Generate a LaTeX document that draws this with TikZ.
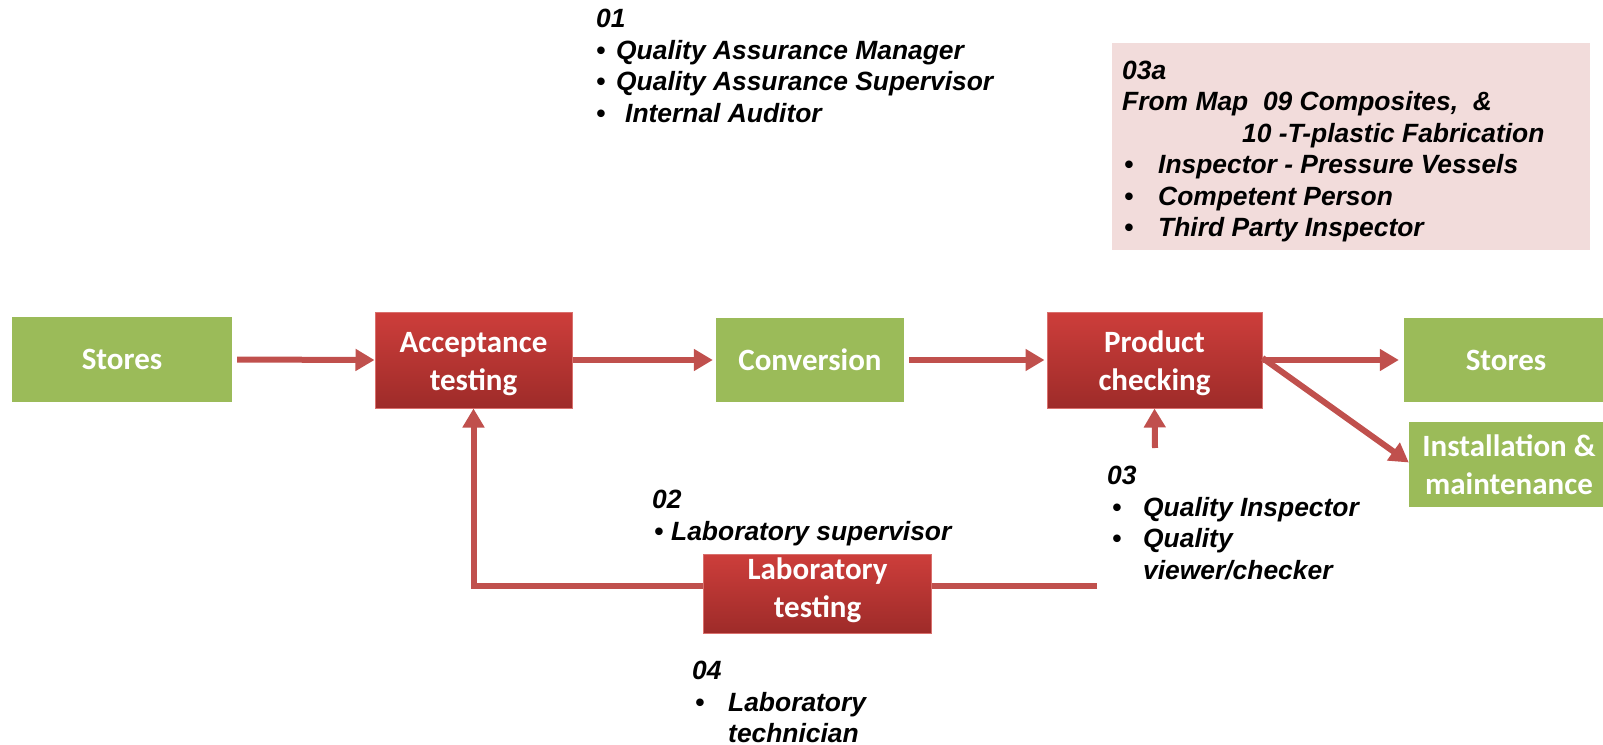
\documentclass[tikz,border=0pt]{standalone}
\usepackage{fontspec}
\newfontfamily\calfont{Carlito}
\newfontfamily\arfont{Liberation Sans}
\usetikzlibrary{arrows.meta,backgrounds}
\definecolor{boxgreen}{HTML}{9BBB59}
\definecolor{arrowred}{HTML}{C0504D}
\definecolor{redtop}{HTML}{CD3E3B}
\definecolor{redbot}{HTML}{9E2B29}
\definecolor{redborder}{HTML}{D9706D}
\definecolor{pinkfill}{HTML}{F2DCDB}
\tikzset{
  boxfont/.style={text=white, font={\calfont\bfseries\fontsize{31}{38}\selectfont}, align=center, inner sep=0pt},
  greenbox/.style={boxfont, fill=boxgreen, draw=none},
  redbox/.style={boxfont, top color=redtop, bottom color=redbot, draw=redborder, line width=1pt},
  flow/.style={draw=arrowred, line width=6pt, -{Triangle[length=19pt,width=21pt]}},
  note/.style={anchor=north west, inner sep=0pt, text=black, font={\arfont\bfseries\itshape\fontsize{26.4}{31.5}\selectfont}},
  pinkbox/.style={note, fill=pinkfill},
}
\begin{document}
\begin{tikzpicture}[x=1pt,y=-1pt]
\useasboundingbox (0,0) rectangle (1603,744);

% process boxes
\node[greenbox, minimum width=220pt, minimum height=85pt] (st1) at (122,359.5) {Stores};
\node[redbox, minimum width=197pt, minimum height=96pt] (acc) at (473.5,360) {\rule{0pt}{29pt}Acceptance\\testing};
\node[greenbox, minimum width=188pt, minimum height=84pt] (conv) at (810,360) {Conversion};
\node[redbox, minimum width=215pt, minimum height=96pt] (prod) at (1154.5,360) {\rule{0pt}{29pt}Product\\checking};
\node[greenbox, minimum width=204pt, minimum height=84pt] (st2) at (1506,360) {Stores};
\node[greenbox, minimum width=200pt, minimum height=85pt] (inst) at (1509,464.5) {Installation \&\\maintenance};
\node[redbox, minimum width=228pt, minimum height=79pt] (lab) at (817.5,593.5) {Laboratory\\testing\rule[-12pt]{0pt}{0pt}};

% connectors
\coordinate (fb) at (1097,586);
\coordinate (qin) at (1155,448);
\draw[flow, shorten <=5pt] (st1.east) -- (acc.west);
\draw[flow, shorten >=3pt] (acc.east) -- (conv.west);
\draw[flow, shorten <=5pt, shorten >=2pt] (conv.east) -- (prod.west);
\draw[flow, shorten >=5pt] (prod.east) -- (st2.west);
\draw[flow] ([yshift=2pt]prod.east) -- ([yshift=2pt]inst.west);
\draw[flow] (qin) -- (prod.south);
\begin{scope}[on background layer]
\draw[flow] (fb) -- (acc.south |- fb) -- (acc.south);
\end{scope}

% annotations
\node[note] (n01) at (596,5.5) {\begin{tabular}{@{}l@{}}
01\\
\makebox[20pt][l]{•}Quality Assurance Manager\\
\makebox[20pt][l]{•}Quality Assurance Supervisor\\
\makebox[29pt][l]{•}Internal Auditor
\end{tabular}};

\node[pinkbox] (n03a) at (1112,43) {\begin{tabular}{@{\hspace{10pt}}p{468pt}@{}}
\rule{0pt}{36pt}03a\\
From Map\ \ 09 Composites,\ \ \&\\
\hspace*{120pt}10 -T-plastic Fabrication\\
\hspace*{2pt}\makebox[34pt][l]{•}Inspector - Pressure Vessels\\
\hspace*{2pt}\makebox[34pt][l]{•}Competent Person\\
\hspace*{2pt}\makebox[34pt][l]{•}Third Party Inspector\rule[-13.5pt]{0pt}{0pt}
\end{tabular}};

\node[note] (n02) at (652,486.5) {\begin{tabular}{@{}l@{}}
02\\
\hspace*{2pt}\makebox[17pt][l]{•}Laboratory supervisor
\end{tabular}};

\node[note] (n03) at (1107,462.5) {\begin{tabular}{@{}l@{}}
03\\
\hspace*{5pt}\makebox[31pt][l]{•}Quality Inspector\\
\hspace*{5pt}\makebox[31pt][l]{•}Quality\\
\hspace*{36pt}viewer/checker
\end{tabular}};

\node[note] (n04) at (692,657.5) {\begin{tabular}{@{}l@{}}
04\\
\hspace*{3pt}\makebox[33pt][l]{•}Laboratory\\
\hspace*{36pt}technician
\end{tabular}};
\end{tikzpicture}
\end{document}
